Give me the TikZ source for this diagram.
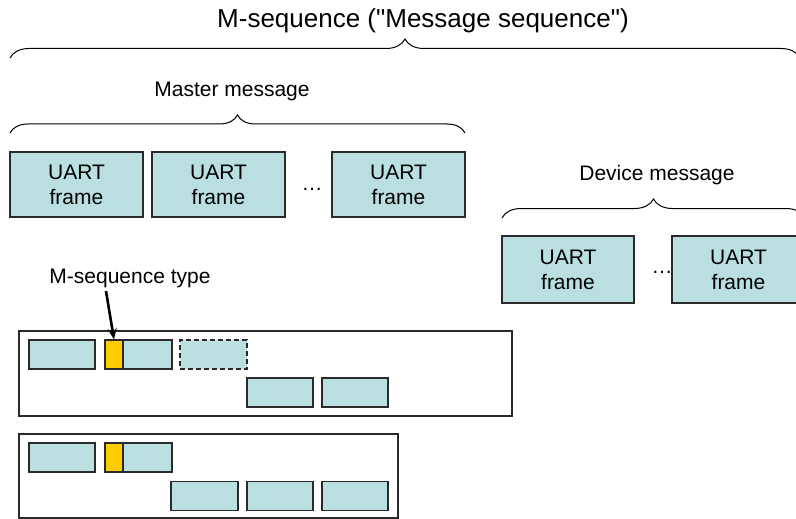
\documentclass[tikz,border=0pt]{standalone}
\usepackage{fontspec}
\setmainfont{Liberation Sans}
\newfontfamily\titlefont{Liberation Sans}[Ligatures=TeXOff]
\usetikzlibrary{decorations.pathreplacing,arrows.meta}
\definecolor{framefill}{HTML}{B9DFE0}
\definecolor{seqyellow}{HTML}{FFCC00}
\definecolor{edgegray}{HTML}{2A2A2A}
\begin{document}
\begin{tikzpicture}[x=1pt,y=-1pt,
  uart/.style={draw=edgegray, fill=framefill, line width=1.1pt, inner sep=0pt, align=center,
    font=\fontsize{21}{25}\selectfont},
  small/.style={draw=edgegray, fill=framefill, line width=1.1pt, inner sep=0pt, minimum height=29pt},
  typebox/.style={draw=edgegray, fill=seqyellow, line width=1.1pt, inner sep=0pt, minimum height=29pt, minimum width=18pt},
  outerbox/.style={draw=edgegray, line width=1.1pt},
  lbl/.style={font=\fontsize{21}{25}\selectfont, inner sep=0pt},
  bigbrace/.style={decorate, decoration={brace, amplitude=19pt}, line width=1pt},
  dots/.style={font=\fontsize{21}{25}\selectfont, inner sep=0pt, anchor=base}
]
\useasboundingbox (0,0) rectangle (796,519);

% title
\node[font=\titlefont\fontsize{26}{30}\selectfont, inner sep=0pt] (title) at (423,21) {M-sequence ("Message sequence")};
\coordinate (bL) at (10,58);
\coordinate (bR) at (800,58);
\draw[bigbrace] (bL) -- (bR);

% master message
\node[lbl] (mm) at (232,91) {Master message};
\coordinate (mL) at (10,133);
\coordinate (mR) at (465,133);
\draw[bigbrace, decoration={brace, amplitude=18pt}] (mL) -- (mR);
\node[uart, minimum width=133pt, minimum height=65pt] (m1) at (76.5,184.5) {UART\\frame};
\node[uart, minimum width=133pt, minimum height=65pt] (m2) at (218.5,184.5) {UART\\frame};
\node[uart, minimum width=133pt, minimum height=65pt] (m3) at (398.5,184.5) {UART\\frame};
\node[dots] (mdots) at (312,190) {…};

% device message
\node[lbl] (dm) at (657,175) {Device message};
\coordinate (dL) at (502,218);
\coordinate (dR) at (805,218);
\draw[bigbrace] (dL) -- (dR);
\node[uart, minimum width=132pt, minimum height=67pt] (d1) at (568,269.5) {UART\\frame};
\node[uart, minimum width=133pt, minimum height=67pt] (d2) at (738.5,269.5) {UART\\frame};
\node[dots] (ddots) at (662,273) {…};

% M-sequence type label and arrow
\node[lbl] (mt) at (130,278) {M-sequence type};

% outer box 1
\draw[outerbox] (19,331) rectangle (512,416);
\node[small, minimum width=66pt] (a1) at (62,354.5) {};
\node[typebox] (y1) at (114,354.5) {};
\node[small, minimum width=49pt] (b1) at (147.5,354.5) {};
\node[small, minimum width=67pt, dash pattern=on 5pt off 3pt] (c1) at (213.5,354.5) {};
\node[small, minimum width=66pt] (e1) at (280,392.5) {};
\node[small, minimum width=66pt] (f1) at (355,392.5) {};

% outer box 2
\draw[outerbox] (19,434) rectangle (398,518);
\node[small, minimum width=66pt] (a2) at (62,457.5) {};
\node[typebox] (y2) at (114,457.5) {};
\node[small, minimum width=49pt] (b2) at (147.5,457.5) {};
\node[small, minimum width=67pt] (e2) at (204.5,496) {};
\node[small, minimum width=66pt] (f2) at (280,496) {};
\node[small, minimum width=66pt] (g2) at (355,496) {};

\coordinate (arrstart) at (106,291);
\draw[line width=2.6pt, -{Stealth[length=11pt,width=9pt]}] (arrstart) -- (y1.north);
\end{tikzpicture}
\end{document}
